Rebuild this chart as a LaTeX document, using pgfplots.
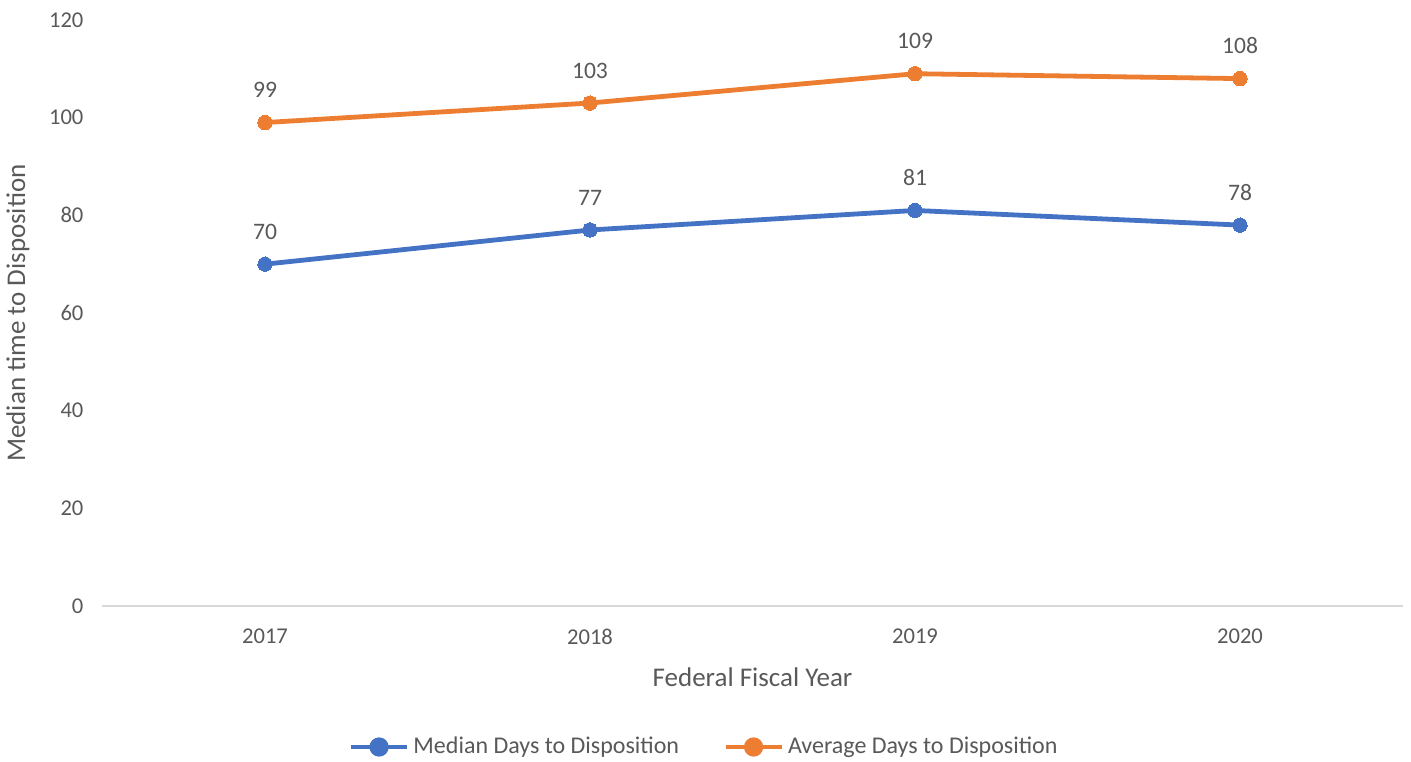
\documentclass[border=0pt]{standalone}
\usepackage{fontspec}
\setmainfont{Carlito}
\usepackage{pgfplots}
\pgfplotsset{compat=1.18}
\definecolor{cblue}{HTML}{4472C4}
\definecolor{corange}{HTML}{ED7D31}
\definecolor{ctext}{HTML}{595959}
\definecolor{caxis}{HTML}{D9D9D9}
\begin{document}
\begin{tikzpicture}
\begin{axis}[
  scale only axis,
  width=650pt, height=293pt,
  xmin=-0.5, xmax=3.5, ymin=0, ymax=120,
  xtick={0,1,2,3}, xticklabels={2017,2018,2019,2020},
  ytick={0,20,40,60,80,100,120},
  axis x line*=bottom, axis y line*=left,
  x axis line style={caxis, line width=0.75pt, -},
  y axis line style={draw=none},
  major tick length=0pt,
  tick label style={font=\fontsize{11.3pt}{13pt}\selectfont, text=ctext},
  /pgf/number format/assume math mode=true,
  xticklabel style={yshift=-8pt},
  yticklabel style={xshift=-6pt},
  label style={font=\fontsize{13.5pt}{15pt}\selectfont, text=ctext},
  xlabel={Federal Fiscal Year},
  xlabel style={yshift=-4.5pt},
  ylabel={Median time to Disposition},
  ylabel style={at={(axis description cs:0,0.5)}, anchor=south, yshift=33pt},
  clip=false,
  nodes near coords,
  nodes near coords style={font=\fontsize{11.8pt}{13pt}\selectfont, text=ctext, yshift=9pt},
  legend style={at={(axis description cs:0.4635,-0.2406)}, anchor=center, draw=none,
    legend columns=2, font=\fontsize{12pt}{14pt}\selectfont, text=ctext,
    /tikz/every even column/.append style={column sep=20pt}},
  legend cell align=left,
  legend image code/.code={
    \draw[#1, line width=2.4pt] (0cm,0cm) -- (28pt,0cm);
    \fill[#1] (14pt,0cm) circle (3.6pt);
  },
]
\addplot[cblue, line width=2.4pt, mark=*, mark size=3.6pt, mark options={fill=cblue, draw=cblue, line width=0pt}]
  coordinates {(0,70) (1,77) (2,81) (3,78)};
\addlegendentry{Median Days to Disposition}
\addplot[corange, line width=2.4pt, mark=*, mark size=3.6pt, mark options={fill=corange, draw=corange, line width=0pt}]
  coordinates {(0,99) (1,103) (2,109) (3,108)};
\addlegendentry{Average Days to Disposition}
\end{axis}
\pgfresetboundingbox
\path (current axis.south west) ++(-51.25pt,-77.5pt) coordinate (bl);
\path (current axis.north east) ++(4.25pt,10pt) coordinate (tr);
\path[use as bounding box] (bl) rectangle (tr);
\end{tikzpicture}
\end{document}
